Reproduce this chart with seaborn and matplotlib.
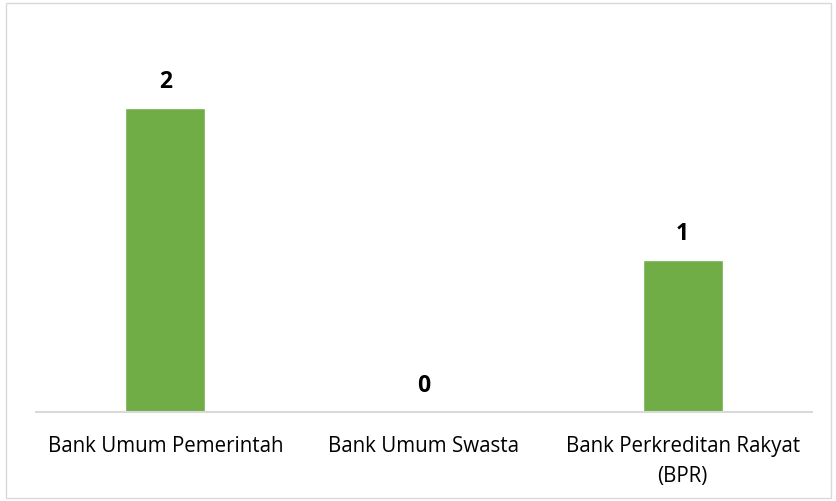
import matplotlib
matplotlib.use("Agg")
import matplotlib.pyplot as plt
import seaborn as sns
import pandas as pd
from matplotlib.patches import Rectangle

categories = ["Bank Umum Pemerintah", "Bank Umum Swasta", "Bank Perkreditan Rakyat\n(BPR)"]
values = [2, 0, 1]

sns.set_theme(style="white")
plt.rcParams['font.family'] = ['Open Sans', 'DejaVu Sans']

df = pd.DataFrame({"cat": categories, "val": values})

fig = plt.figure(figsize=(8.37, 5.01), dpi=100)
ax = fig.add_axes([36/837, 1-412/501, (812-36)/837, (412-32)/501])
sns.barplot(data=df, x="cat", y="val", color="#70AD47", saturation=1, width=0.31, ax=ax)
ax.set_ylim(0, 2.5)
ax.set_xlim(-0.5, 2.5)
ax.set_xlabel("")
ax.set_ylabel("")
ax.set_yticks([])
for s in ["top", "right", "left"]:
    ax.spines[s].set_visible(False)
ax.spines["bottom"].set_color("#D9D9D9")
ax.spines["bottom"].set_linewidth(1.5)
ax.tick_params(axis="x", length=0, pad=17, labelsize=14.8, colors="#000000")
for t in ax.get_xticklabels():
    t.set_linespacing(1.6)
for c in ax.containers:
    ax.bar_label(c, labels=[str(v) for v in values], padding=10, fontsize=16.5, fontweight="bold", color="#000000")
fig.patches.append(Rectangle((6/837, 3/501), 1-12/837, 1-6/501, transform=fig.transFigure,
                             fill=False, edgecolor="#D9D9D9", linewidth=1))
fig.savefig("out.png", dpi=100)
